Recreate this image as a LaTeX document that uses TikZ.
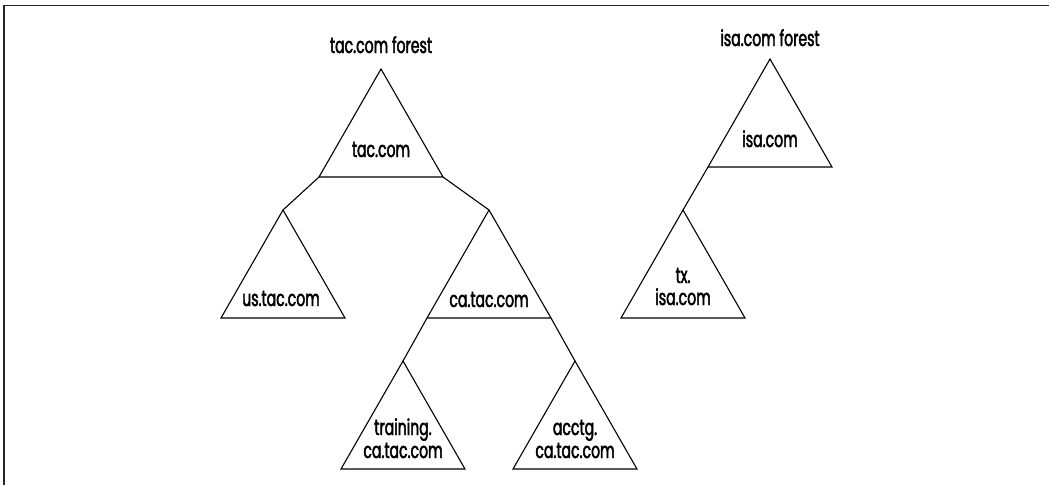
\documentclass[tikz,border=0pt]{standalone}
\usepackage{fontspec}
\setmainfont{Poppins}[FakeStretch=0.64,FakeBold=2]
\begin{document}
\begin{tikzpicture}[x=1pt,y=-1pt,
  tri/.style={draw=black,line width=1.1pt,line join=miter},
  link/.style={draw=black,line width=1.1pt},
  lbl/.style={inner sep=0pt,anchor=base,font=\fontsize{22}{22}\selectfont}]
\useasboundingbox (0,0) rectangle (1049,485);
\draw[line width=1.6pt,black!85] (1049,5.5) -- (4,5.5) -- (4,485);
\newcommand{\mytri}[3]{%
  \coordinate (#1-a) at (#2,#3);
  \coordinate (#1-l) at (#2-62,#3+108);
  \coordinate (#1-r) at (#2+62,#3+108);
  \draw[tri] (#1-a) -- (#1-l) -- (#1-r) -- cycle;}
\mytri{tac}{381}{69}
\mytri{us}{283}{210}
\mytri{ca}{489}{210}
\mytri{train}{403}{361}
\mytri{acctg}{575}{361}
\mytri{isa}{770}{59}
\mytri{tx}{683}{210}
\draw[link] (tac-l) -- (us-a);
\draw[link] (tac-r) -- (ca-a);
\draw[link] (ca-l) -- (train-a);
\draw[link] (ca-r) -- (acctg-a);
\draw[link] (isa-l) -- (tx-a);
\node[lbl] (tacf) at (381,53) {tac.com forest};
\node[lbl] (tact) at (381,157) {tac.com};
\node[lbl] (ust) at (281,306) {us.tac.com};
\node[lbl] (cat) at (489,307) {ca.tac.com};
\node[lbl] (train1) at (403,435) {training.};
\node[lbl] (train2) at (403,458) {ca.tac.com};
\node[lbl] (acctg1) at (575,435) {acctg.};
\node[lbl] (acctg2) at (575,458) {ca.tac.com};
\node[lbl] (isaf) at (770,46) {isa.com forest};
\node[lbl] (isat) at (770,147) {isa.com};
\node[lbl] (tx1) at (683,283) {tx.};
\node[lbl] (tx2) at (683,305) {isa.com};
\end{tikzpicture}
\end{document}
